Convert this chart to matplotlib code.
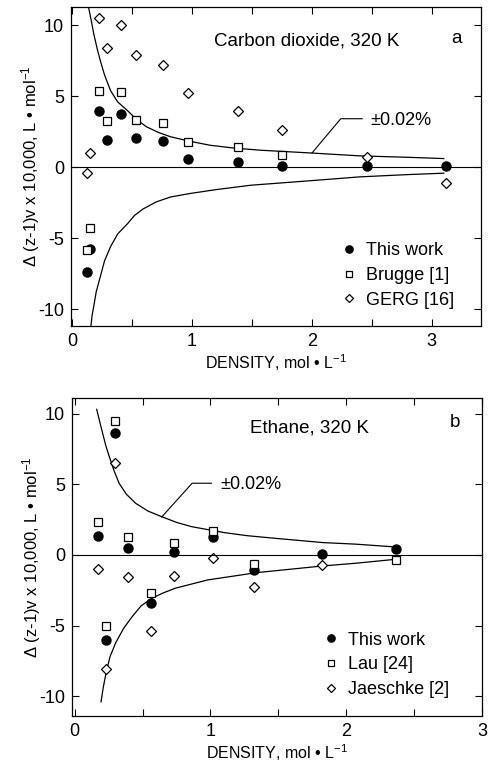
import matplotlib
matplotlib.use('Agg')
import matplotlib.pyplot as plt
import numpy as np

plt.rcParams['font.family'] = ['Liberation Sans', 'DejaVu Sans']
plt.rcParams['mathtext.fontset'] = 'custom'
plt.rcParams['mathtext.rm'] = 'Liberation Sans'
plt.rcParams['mathtext.it'] = 'Liberation Sans'
plt.rcParams['axes.unicode_minus'] = False

# panel a: carbon dioxide, 320 K
co2_rho = [0.12, 0.15, 0.22, 0.29, 0.41, 0.53, 0.76, 0.97, 1.38, 1.75, 2.46, 3.12]
co2_this = [-7.4, -5.8, 3.97, 1.95, 3.78, 2.07, 1.83, 0.56, 0.37, 0.07, 0.07, 0.07]
co2_brugge = [-5.85, -4.3, 5.4, 3.26, 5.3, 3.3, 3.15, 1.8, 1.4, 0.85, np.nan, np.nan]
co2_gerg = [-0.44, 1.01, 10.55, 8.38, 10.0, 7.89, 7.18, 5.21, 3.96, 2.61, 0.73, -1.1]

co2_up_rho = [0.136, 0.16, 0.18, 0.21, 0.235, 0.27, 0.32, 0.38, 0.46, 0.54, 0.62, 0.72, 0.82, 0.97, 1.15, 1.35, 1.57, 2.0, 2.4, 2.8, 3.1]
co2_up = [11.3, 10.3, 9.4, 8.3, 7.5, 6.5, 5.4, 4.6, 4.0, 3.35, 2.85, 2.45, 2.15, 1.85, 1.55, 1.35, 1.2, 1.0, 0.8, 0.7, 0.61]
co2_lo_rho = [0.155, 0.165, 0.18, 0.2, 0.235, 0.27, 0.32, 0.38, 0.46, 0.52, 0.59, 0.7, 0.82, 0.985, 1.2, 1.49, 1.99, 2.4, 2.8, 3.1]
co2_lo = [-11.3, -10.5, -9.8, -8.8, -7.7, -6.6, -5.6, -4.7, -4.0, -3.4, -2.95, -2.45, -2.1, -1.85, -1.58, -1.27, -0.95, -0.68, -0.52, -0.42]

# panel b: ethane, 320 K
eth_rho = [0.17, 0.23, 0.296, 0.395, 0.565, 0.732, 1.018, 1.32, 1.82, 2.37]
eth_this = [1.34, -6.0, 8.64, 0.47, -3.37, 0.23, 1.29, -1.06, 0.07, 0.40]
eth_lau = [2.3, -5.0, 9.5, 1.3, -2.7, 0.87, 1.7, -0.64, np.nan, -0.35]
eth_jaeschke = [-0.99, -8.1, 6.5, -1.53, -5.35, -1.46, -0.24, -2.24, -0.71, np.nan]

eth_up_rho = [0.162, 0.185, 0.206, 0.23, 0.255, 0.29, 0.327, 0.38, 0.449, 0.54, 0.642, 0.75, 0.86, 1.1, 1.27, 1.47, 1.83, 2.07, 2.38]
eth_up = [10.3, 9.4, 8.6, 7.7, 6.95, 5.95, 5.07, 4.3, 3.65, 3.1, 2.7, 2.3, 2.0, 1.58, 1.36, 1.18, 0.87, 0.76, 0.55]
eth_lo_rho = [0.194, 0.21, 0.23, 0.26, 0.303, 0.36, 0.424, 0.49, 0.569, 0.65, 0.74, 0.98, 1.345, 1.83, 2.07, 2.376]
eth_lo = [-10.4, -9.4, -8.4, -7.2, -6.2, -5.2, -4.36, -3.6, -3.06, -2.7, -2.36, -1.77, -1.25, -0.78, -0.59, -0.3]

ylab = 'Δ (z-1)v x 10,000, L • mol$^{-1}$'
xlab = 'DENSITY, mol • L$^{-1}$'

fig = plt.figure(figsize=(4.91, 7.70), dpi=100)
ax1 = fig.add_axes([0.1446, 0.5766, 0.835, 0.4143])
ax2 = fig.add_axes([0.1466, 0.0701, 0.835, 0.4130])


def style_axes(ax, xmax, xmin):
    ax.set_xlim(xmin, xmax)
    ax.set_xticks(np.arange(0, 3.01, 0.5))
    ax.set_xticklabels(['0', '', '1', '', '2', '', '3'])
    ax.set_yticks([-10, -5, 0, 5, 10])
    ax.tick_params(direction='in', top=True, right=True, length=5, width=0.8,
                   labelsize=13, pad=5)
    for s in ax.spines.values():
        s.set_linewidth(0.9)
    ax.axhline(0, color='black', lw=0.8)
    ax.set_xlabel(xlab, fontsize=11.5, labelpad=2)
    ax.set_ylabel(ylab, fontsize=12, labelpad=-2.5)


def add_points(ax, rho, a, b, c, names):
    ax.plot(rho, a, 'o', color='black', ms=6.5, label=names[0])
    ax.plot(rho, b, 's', mfc='white', mec='black', mew=0.9, ms=5.8, label=names[1])
    ax.plot(rho, c, 'D', mfc='white', mec='black', mew=0.9, ms=5.2, label=names[2])


# panel a
ax1.plot(co2_up_rho, co2_up, color='black', lw=0.9)
ax1.plot(co2_lo_rho, co2_lo, color='black', lw=0.9)
add_points(ax1, co2_rho, co2_this, co2_brugge, co2_gerg,
           ['This work', 'Brugge [1]', 'GERG [16]'])
style_axes(ax1, 3.41, -0.01)
ax1.set_ylim(-11.2, 11.3)
ax1.text(1.185, 8.9, 'Carbon dioxide, 320 K', fontsize=13.5, va='center')
ax1.text(3.16, 9.1, 'a', fontsize=13.5, va='center')
ax1.annotate('±0.02%', xy=(2.0, 1.0), xytext=(2.49, 3.3), fontsize=13, va='center',
             arrowprops=dict(arrowstyle='-', lw=0.8, relpos=(0, 0.6), shrinkA=4, shrinkB=0,
                             connectionstyle='angle,angleA=0,angleB=50,rad=0'))
ax1.legend(loc='upper left', bbox_to_anchor=(0.655, 0.262), frameon=False, fontsize=13,
           handlelength=1.0, handletextpad=0.45, labelspacing=0.42, borderaxespad=0,
           borderpad=0, markerscale=0.8)

# panel b
ax2.plot(eth_up_rho, eth_up, color='black', lw=0.9)
ax2.plot(eth_lo_rho, eth_lo, color='black', lw=0.9)
add_points(ax2, eth_rho, eth_this, eth_lau, eth_jaeschke,
           ['This work', 'Lau [24]', 'Jaeschke [2]'])
style_axes(ax2, 2.95, -0.02)
ax2.set_ylim(-11.4, 11.1)
ax2.text(1.29, 8.95, 'Ethane, 320 K', fontsize=13.5, va='center')
ax2.text(2.76, 9.4, 'b', fontsize=13.5, va='center')
ax2.annotate('±0.02%', xy=(0.64, 2.67), xytext=(1.07, 4.95), fontsize=13, va='center',
             arrowprops=dict(arrowstyle='-', lw=0.8, relpos=(0, 0.6), shrinkA=4, shrinkB=0,
                             connectionstyle='angle,angleA=0,angleB=48,rad=0'))
ax2.legend(loc='upper left', bbox_to_anchor=(0.61, 0.265), frameon=False, fontsize=13,
           handlelength=1.0, handletextpad=0.45, labelspacing=0.42, borderaxespad=0,
           borderpad=0, markerscale=0.8)

fig.savefig('out.png', dpi=100)
